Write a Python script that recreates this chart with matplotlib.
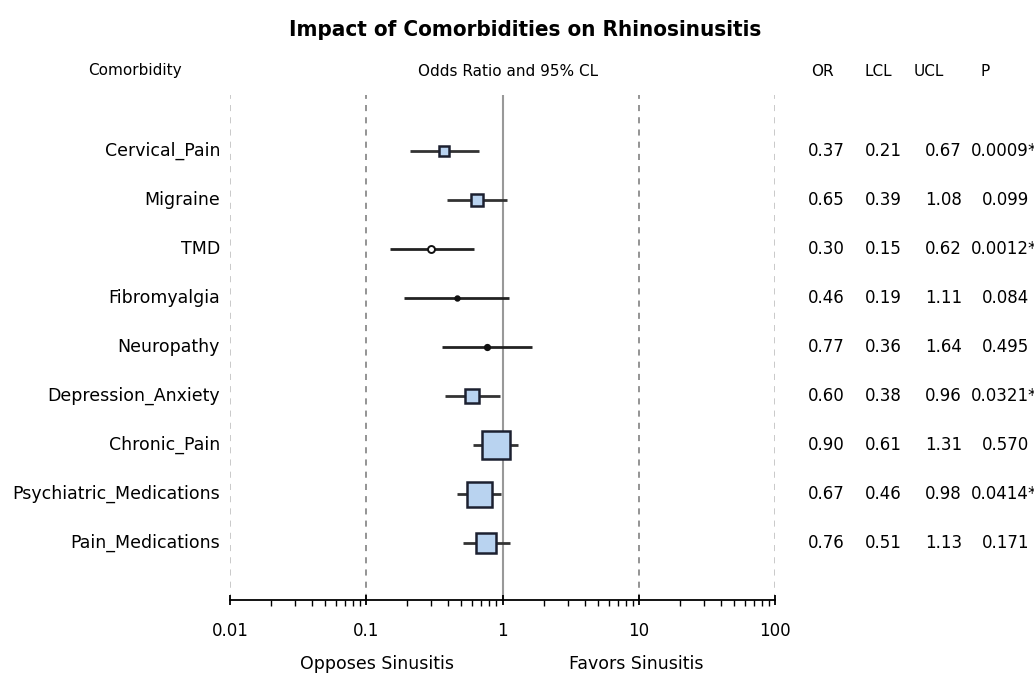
import numpy as np
import matplotlib.pyplot as plt
from matplotlib.ticker import LogLocator, NullFormatter, FixedLocator, FixedFormatter

plt.rcParams['font.family'] = ['DejaVu Sans']

comorbidity = ['Cervical_Pain', 'Migraine', 'TMD', 'Fibromyalgia', 'Neuropathy',
               'Depression_Anxiety', 'Chronic_Pain', 'Psychiatric_Medications',
               'Pain_Medications']
odds = [0.37, 0.65, 0.30, 0.46, 0.77, 0.60, 0.90, 0.67, 0.76]
lcl = [0.21, 0.39, 0.15, 0.19, 0.36, 0.38, 0.61, 0.46, 0.51]
ucl = [0.67, 1.08, 0.62, 1.11, 1.64, 0.96, 1.31, 0.98, 1.13]
pval = ['0.0009', '0.099', '0.0012', '0.084', '0.495', '0.0321', '0.570', '0.0414', '0.171']
signif = [True, False, True, False, False, True, False, True, False]
# relative weight
weight = [7, 9, 5, 3.2, 3.8, 10, 19.5, 18, 15]

W, H = 1034, 678
fig = plt.figure(figsize=(W / 100, H / 100), dpi=100)

def fx(px):
    return px / W

def fy(py):
    return 1 - py / H

ax = fig.add_axes([fx(230), fy(600), fx(775) - fx(230), fy(95) - fy(600)])
ax.set_xscale('log')
ax.set_xlim(0.01, 100)
rows = np.arange(1, len(comorbidity) + 1)
ax.set_ylim(10.16, -0.14)

# reference lines
for v, c in [(0.01, '#bbbbbb'), (0.1, '#777777'), (10, '#777777'), (100, '#bbbbbb')]:
    ax.axvline(v, color=c, ls=(0, (4, 4)), lw=1.1, zorder=1)
ax.axvline(1, color='#999999', lw=1.5, zorder=1)

for i, y in enumerate(rows):
    small = weight[i] < 6
    ax.plot([lcl[i], ucl[i]], [y, y], color='#222222' if small else '#333333', lw=2, zorder=2,
            solid_capstyle='butt')
    if small:
        fc = 'white' if weight[i] > 4.5 else '#111111'
        ax.plot(odds[i], y, marker='o', ms=weight[i], mfc=fc, mec='#111111', mew=1.4, zorder=3)
    else:
        ax.plot(odds[i], y, marker='s', ms=weight[i], mfc='#b9d3f0', mec='#1c2030',
                mew=1.8, zorder=3)

for s in ['top', 'right', 'left']:
    ax.spines[s].set_visible(False)
ax.spines['bottom'].set_linewidth(1.3)
ax.set_yticks([])
ax.xaxis.set_major_locator(FixedLocator([0.01, 0.1, 1, 10, 100]))
ax.xaxis.set_major_formatter(FixedFormatter(['0.01', '0.1', '1', '10', '100']))
ax.xaxis.set_minor_locator(LogLocator(base=10, subs=np.arange(2, 10)))
ax.xaxis.set_minor_formatter(NullFormatter())
ax.tick_params(axis='x', which='major', length=7, width=1.3, labelsize=12, pad=12, direction='inout')
ax.tick_params(axis='x', which='minor', length=4, width=1.0, direction='out')

# row labels and table
fs = 12
for i, y in enumerate(rows):
    py = 151 + (y - 1) * 49
    fig.text(fx(220), fy(py), comorbidity[i], ha='right', va='center', fontsize=12.5)
    fig.text(fx(845), fy(py), f'{odds[i]:.2f}', ha='right', va='center', fontsize=fs)
    fig.text(fx(902), fy(py), f'{lcl[i]:.2f}', ha='right', va='center', fontsize=fs)
    fig.text(fx(962), fy(py), f'{ucl[i]:.2f}', ha='right', va='center', fontsize=fs)
    fig.text(fx(1029), fy(py), pval[i], ha='right', va='center', fontsize=fs)
    if signif[i]:
        fig.text(fx(1027), fy(py), '*', ha='left', va='center', fontsize=fs)

fig.text(fx(525), fy(30), 'Impact of Comorbidities on Rhinosinusitis', ha='center', va='center',
         fontsize=16, fontweight='bold', fontstretch='condensed')
hdr = dict(va='center', fontsize=11, fontweight='medium')
fig.text(fx(135), fy(71), 'Comorbidity', ha='center', **hdr)
fig.text(fx(508), fy(71), 'Odds Ratio and 95% CL', ha='center', **hdr)
fig.text(fx(822), fy(71), 'OR', ha='center', **hdr)
fig.text(fx(878), fy(71), 'LCL', ha='center', **hdr)
fig.text(fx(929), fy(71), 'UCL', ha='center', **hdr)
fig.text(fx(985), fy(71), 'P', ha='center', **hdr)

fig.text(fx(377), fy(664), 'Opposes Sinusitis', ha='center', va='center', fontsize=12.5)
fig.text(fx(636), fy(664), 'Favors Sinusitis', ha='center', va='center', fontsize=12.5)

fig.savefig('out.png', dpi=100, facecolor='white')
